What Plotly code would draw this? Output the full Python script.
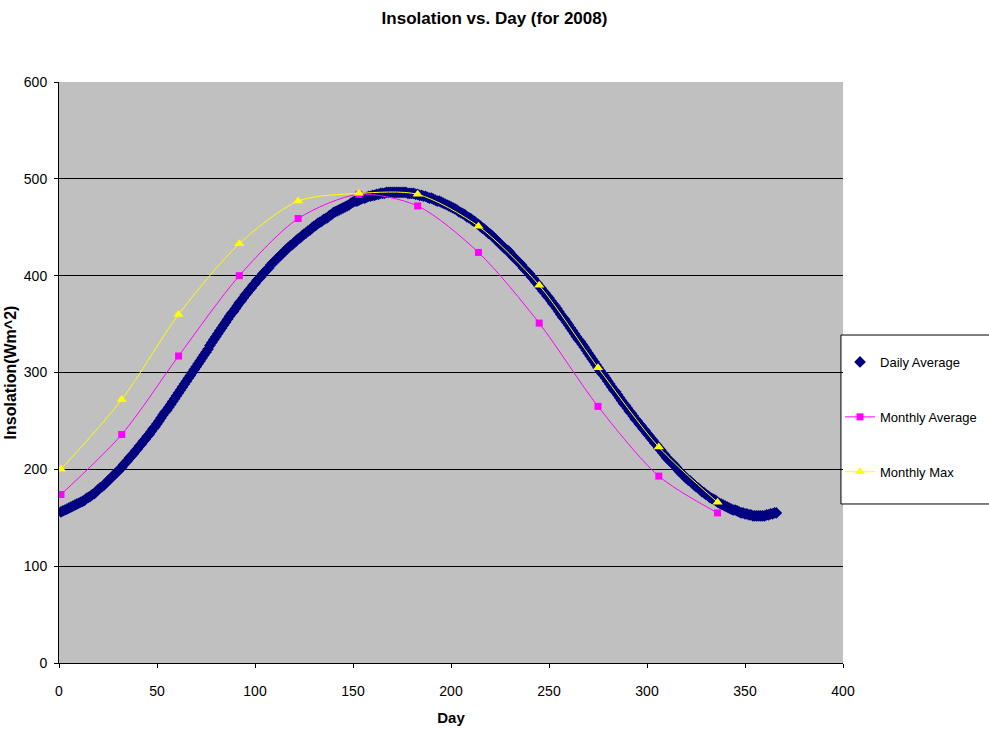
import plotly.graph_objects as go

# Daily average insolation (W/m^2), day 1..366 of 2008
days = list(range(1, 367))
daily_avg = [
    156,157,158,159,160,161,162,163,164,165,
    166,167,168,170,171,172,174,175,177,179,
    181,182,184,186,188,190,192,194,196,198,
    200,202,205,207,209,212,214,216,219,221,
    224,226,229,231,234,236,239,242,244,247,
    250,253,256,259,261,264,267,270,273,276,
    279,282,285,288,291,294,297,300,303,306,
    309,312,315,318,321,324,328,331,334,337,
    340,343,346,349,352,355,358,361,363,366,
    369,372,374,377,380,382,385,387,390,392,
    395,397,399,402,404,406,408,411,413,415,
    417,419,421,423,425,427,429,431,432,434,
    436,438,439,441,443,444,446,447,449,451,
    452,454,455,456,458,459,460,462,463,465,
    466,467,468,469,470,471,472,473,475,476,
    477,477,478,479,480,480,481,482,482,483,
    483,484,484,485,485,485,486,486,486,486,
    486,486,486,486,486,486,486,485,485,485,
    485,484,484,483,483,482,482,481,480,480,
    479,478,477,477,476,475,474,473,472,471,
    470,469,468,466,465,464,463,461,460,459,
    457,456,454,453,451,449,448,446,444,443,
    441,439,437,435,433,431,429,427,426,424,
    421,419,417,415,413,411,408,406,404,402,
    399,397,394,392,389,387,384,382,379,377,
    374,371,369,366,363,360,357,355,352,349,
    346,343,340,337,334,332,329,326,323,320,
    317,314,311,308,305,302,299,297,294,291,
    288,285,282,280,277,274,271,268,266,263,
    260,258,255,252,250,247,245,242,240,237,
    235,232,230,227,225,222,220,217,215,212,
    210,208,206,204,202,199,197,195,193,191,
    189,188,186,184,182,181,179,177,176,174,
    173,171,170,169,168,166,165,164,163,162,
    161,160,159,158,158,157,156,155,155,154,
    154,153,153,152,152,152,152,152,152,152,
    153,153,154,154,155,155,
]

# First day of each month (2008)
month_days = [1, 32, 61, 92, 122, 153, 183, 214, 245, 275, 306, 336]
monthly_avg = [174, 236, 317, 400, 459, 484, 472, 424, 351, 265, 193, 155]
monthly_max = [200, 272, 360, 433, 477, 485, 484, 451, 390, 305, 223, 166]

x_ticks = [0, 50, 100, 150, 200, 250, 300, 350, 400]
y_ticks = [0, 100, 200, 300, 400, 500, 600]

font_family = "Liberation Sans, Arial, sans-serif"
narrow_family = "Liberation Sans Narrow, Liberation Sans, Arial, sans-serif"

fig = go.Figure()
fig.add_trace(go.Scatter(
    x=days, y=daily_avg, mode="markers", name="Daily Average",
    legendgroup="a",
    marker=dict(symbol="diamond", size=9, color="#000080",
                line=dict(width=0)),
))
fig.add_trace(go.Scatter(
    x=month_days, y=monthly_avg, mode="lines+markers", name="Monthly Average",
    legendgroup="b",
    line=dict(color="#FF00FF", width=1, shape="spline", smoothing=0.8),
    marker=dict(symbol="square", size=7, color="#FF00FF"),
))
fig.add_trace(go.Scatter(
    x=month_days, y=monthly_max, mode="lines+markers", name="Monthly Max",
    legendgroup="c",
    line=dict(color="#FFFF00", width=1, shape="spline", smoothing=0.8),
    marker=dict(symbol="triangle-up", size=9, color="#FFFF00"),
))

# legend frame (extends past the right edge, as in the original)
fig.add_shape(type="rect", xref="paper", yref="paper",
              x0=0.9974, x1=1.2, y0=0.2737, y1=0.5645,
              line=dict(color="black", width=1), fillcolor="white",
              layer="below")

fig.update_layout(
    width=989, height=729,
    margin=dict(l=59, r=146, t=82, b=66, autoexpand=False),
    paper_bgcolor="white",
    plot_bgcolor="#C0C0C0",
    font=dict(family=font_family, size=12, color="black"),
    title=dict(text="<b>Insolation vs. Day (for 2008)</b>",
               x=0.5, xanchor="center", y=0.975, yanchor="middle",
               font=dict(size=17, family=font_family, color="black")),
    xaxis=dict(
        range=[0, 400], tickvals=x_ticks, ticktext=[str(v) for v in x_ticks],
        showgrid=False, zeroline=False, automargin=False,
        showline=True, linecolor="black", linewidth=1, mirror=False,
        ticks="outside", ticklen=4, tickcolor="black",
        ticklabelstandoff=11,
        tickfont=dict(family=narrow_family, size=14),
        title=dict(text="<b>Day</b>", font=dict(size=15), standoff=14),
    ),
    yaxis=dict(
        range=[0, 600], tickvals=y_ticks, ticktext=[str(v) for v in y_ticks],
        showgrid=True, gridcolor="black", gridwidth=1, zeroline=False,
        automargin=False,
        showline=True, linecolor="black", linewidth=1,
        ticks="outside", ticklen=4, tickcolor="black",
        ticklabelstandoff=4,
        tickfont=dict(family=narrow_family, size=14),
        title=dict(text="<b>Insolation(Wm^2)</b>", font=dict(size=16), standoff=3),
    ),
    legend=dict(
        x=0.9962, y=0.5439, xanchor="left", yanchor="top",
        bgcolor="rgba(0,0,0,0)", borderwidth=0,
        font=dict(size=13), tracegroupgap=35,
        itemsizing="trace", itemwidth=30,
    ),
    showlegend=True,
)

fig.write_html("out.html")
